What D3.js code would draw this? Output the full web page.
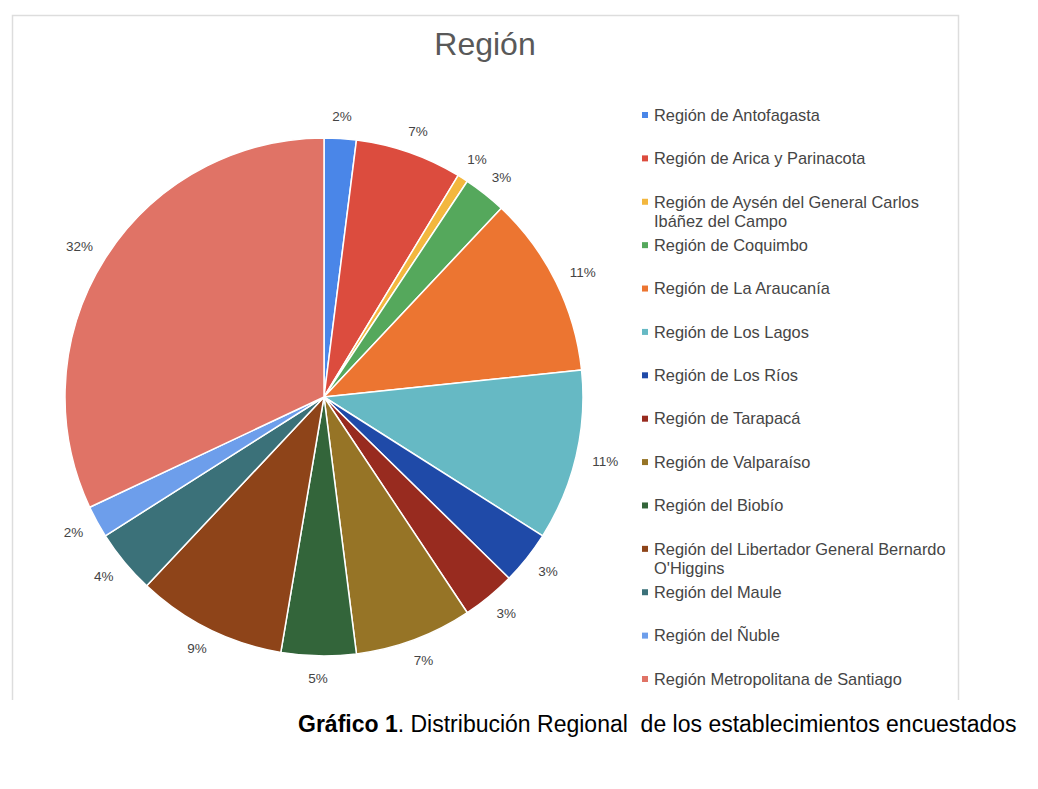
<!DOCTYPE html>
<html>
<head>
<meta charset="utf-8">
<script src="https://cdn.jsdelivr.net/npm/d3@7"></script>
<style>
  body { margin: 0; background: #fff; }
  text { font-family: Arial, "Liberation Sans", sans-serif; }
</style>
</head>
<body>
<div id="chart"></div>
<script>
const regions = [
    "Región de Antofagasta",
    "Región de Arica y Parinacota",
    "Región de Aysén del General Carlos Ibáñez del Campo",
    "Región de Coquimbo",
    "Región de La Araucanía",
    "Región de Los Lagos",
    "Región de Los Ríos",
    "Región de Tarapacá",
    "Región de Valparaíso",
    "Región del Biobío",
    "Región del Libertador General Bernardo O'Higgins",
    "Región del Maule",
    "Región del Ñuble",
    "Región Metropolitana de Santiago"
];

// número de establecimientos por región (total 150)
const counts = [3, 10, 1, 4, 17, 16, 5, 5, 11, 7, 14, 6, 3, 48];

const colors = [
    "#4a86e8", "#dc4c3e", "#f3b73e", "#55a85c", "#ec7531", "#66b9c4", "#1f4aa8",
    "#982b1f", "#967426", "#33653a", "#8e4419", "#3b7179", "#6d9eeb", "#e07366"
];

const chartTitle = "Región";
const captionBold = "Gráfico 1";
const captionRest = ". Distribución Regional  de los establecimientos encuestados";

const data = regions.map((name, i) => ({ name, value: counts[i], color: colors[i] }));
const total = d3.sum(counts);

const width = 1038;
const height = 789;
const cx = 324, cy = 397, radius = 259;

const svg = d3.select("#chart")
    .append("svg")
    .attr("width", width)
    .attr("height", height);

// marco del gráfico
svg.append("path")
    .attr("d", "M12.5,700 V15.5 H958.5 V700")
    .attr("fill", "none")
    .attr("stroke", "#dddddd")
    .attr("stroke-width", 1.5);

svg.append("text")
    .attr("x", 485)
    .attr("y", 55)
    .attr("text-anchor", "middle")
    .style("font-size", "32px")
    .style("fill", "#595959")
    .text(chartTitle);

const pie = d3.pie()
    .sort(null)
    .value(d => d.value);

const arc = d3.arc()
    .innerRadius(0)
    .outerRadius(radius);

const arcs = pie(data);

const g = svg.append("g")
    .attr("transform", `translate(${cx}, ${cy})`);

g.selectAll("path")
    .data(arcs)
    .enter()
    .append("path")
    .attr("d", arc)
    .attr("fill", d => d.data.color)
    .attr("stroke", "#ffffff")
    .attr("stroke-width", 1.5)
    .attr("stroke-linejoin", "round");

const pct = d3.format(".0%");

const labels = g.selectAll("text.pct")
    .data(arcs)
    .enter()
    .append("text")
    .attr("class", "pct")
    .attr("text-anchor", "middle")
    .attr("dy", "0.35em")
    .style("font-size", "13.5px")
    .style("fill", "#444444")
    .text(d => pct(d.data.value / total));

labels.each(function (d) {
    const a = (d.startAngle + d.endAngle) / 2;
    const w = this.getComputedTextLength();
    const h = 10;
    const s = Math.sin(a), c = Math.cos(a);
    const r0 = radius + 17;
    const x = r0 * s + (w / 2) * s;
    const y = -r0 * c - (h / 2) * c;
    d3.select(this).attr("x", x).attr("y", y);
});

// leyenda
const legendY = d3.scaleLinear()
    .domain([0, regions.length - 1])
    .range([115, 679]);

const legend = svg.append("g")
    .attr("transform", "translate(642, 0)");

const items = legend.selectAll("g")
    .data(data)
    .enter()
    .append("g")
    .attr("transform", (d, i) => `translate(0, ${legendY(i)})`);

items.append("rect")
    .attr("x", 0)
    .attr("y", -3)
    .attr("width", 6)
    .attr("height", 6)
    .attr("fill", d => d.color);

const maxLine = 305;
items.append("text")
    .attr("x", 12)
    .style("font-size", "16.4px")
    .style("fill", "#454545")
    .each(function (d) {
        const text = d3.select(this);
        const words = d.name.split(" ");
        let line = [];
        let tspan = text.append("tspan").attr("x", 12).attr("dy", "0.35em");
        words.forEach(word => {
            line.push(word);
            tspan.text(line.join(" "));
            if (tspan.node().getComputedTextLength() > maxLine && line.length > 1) {
                line.pop();
                tspan.text(line.join(" "));
                line = [word];
                tspan = text.append("tspan")
                    .attr("x", 12)
                    .attr("dy", "19px")
                    .text(word);
            }
        });
    });

// pie de figura
const caption = svg.append("text")
    .attr("x", 298)
    .attr("y", 732)
    .attr("xml:space", "preserve")
    .style("white-space", "pre")
    .style("font-size", "23px")
    .style("fill", "#000000");

caption.append("tspan")
    .style("font-weight", "bold")
    .text(captionBold);

caption.append("tspan")
    .text(captionRest);
</script>
</body>
</html>
